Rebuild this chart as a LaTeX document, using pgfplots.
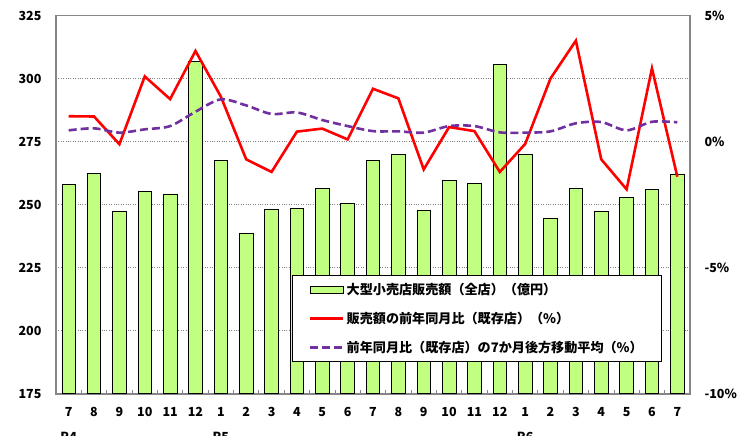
\documentclass[border=0pt]{standalone}
\usepackage{fontspec}
\setmainfont{Noto Sans CJK JP}
\usepackage{pgfplots}
\usepackage{pgfplotstable}
\pgfplotsset{compat=1.18}
\definecolor{barg}{RGB}{192,255,128}
\definecolor{purp}{RGB}{112,48,160}
\definecolor{framec}{RGB}{134,134,134}
\pgfplotstableread{
x sales yoy ma
0 258.2 1.01 0.45
1 262.3 1.00 0.53
2 247.4 -0.10 0.36
3 255.4 2.59 0.49
4 254.3 1.69 0.62
5 306.7 3.60 1.19
6 267.6 1.79 1.68
7 238.5 -0.70 1.44
8 248.2 -1.20 1.10
9 248.6 0.40 1.16
10 256.4 0.52 0.86
11 250.6 0.09 0.62
12 267.6 2.10 0.42
13 270.1 1.72 0.41
14 247.8 -1.10 0.36
15 259.8 0.58 0.62
16 258.5 0.42 0.62
17 305.7 -1.20 0.37
18 270.1 -0.09 0.36
19 244.7 2.51 0.41
20 256.4 4.01 0.73
21 247.4 -0.70 0.78
22 252.9 -1.89 0.45
23 256.1 2.91 0.79
24 262.2 -1.39 0.77
}\data
\begin{document}
\begin{tikzpicture}[font=\bfseries\fontsize{12.5}{15}\selectfont]
\begin{axis}[
  at={(0pt,0pt)}, anchor=south west,
  scale only axis, width=634pt, height=378pt,
  xmin=-0.5, xmax=24.5, ymin=175, ymax=325,
  ytick={175,200,...,325},
  xtick={0,...,24},
  xticklabels={{7\\[10pt]R4},8,9,10,11,12,{1\\[10pt]R5},2,3,4,5,6,7,8,9,10,11,12,{1\\[10pt]R6},2,3,4,5,6,7},
  xticklabel style={align=center, anchor=north, yshift=-10pt},
  yticklabel style={xshift=-11pt},
  minor xtick={-0.5,0.5,...,24.5},
  major tick length=0pt, minor tick length=4pt,
  minor tick style={framec, line width=0.8pt},
  xtick pos=bottom, ytick pos=left,
  ymajorgrids, major grid style={gray, dotted, line width=0.9pt},
  axis line style={framec, line width=1.6pt},
  /pgf/number format/assume math mode=true,
  tick label style={font=\bfseries\fontsize{12.5}{15}\selectfont},
]
\addplot[ybar, bar width=13.6pt, fill=barg, draw=black, line width=0.7pt] table[x=x,y=sales]{\data};
\end{axis}
\begin{axis}[
  at={(0pt,0pt)}, anchor=south west,
  scale only axis, width=634pt, height=378pt,
  xmin=-0.5, xmax=24.5, ymin=-10, ymax=5,
  axis x line=none, axis y line*=right,
  ytick={-10,-5,0,5}, yticklabels={-10\%,-5\%,0\%,5\%},
  yticklabel style={xshift=11pt},
  major tick length=0pt,
  axis line style={framec, line width=1.6pt},
  tick label style={font=\bfseries\fontsize{12.5}{15}\selectfont},
  legend style={at={(0.3718,0.314)}, anchor=north west, draw=black, line width=0.8pt, fill=white,
    inner xsep=17pt, inner ysep=6pt, row sep=12pt,
    font=\bfseries\fontsize{13.1}{15}\selectfont,
    /tikz/every even column/.append style={column sep=0pt}},
  legend cell align=left,
]
\addlegendimage{legend image code/.code={\draw[fill=barg,draw=black,line width=0.7pt] (0pt,-3.6pt) rectangle (33pt,3.6pt);}}
\addlegendentry{大型小売店販売額（全店）（億円）}
\addplot[red, line width=2.6pt, legend image code/.code={\draw[red,line width=2.6pt] (0pt,0pt)--(33pt,0pt);}] table[x=x,y=yoy]{\data};
\addlegendentry{販売額の前年同月比（既存店）（\%）}
\addplot[purp, line width=2.6pt, dash pattern=on 8pt off 4pt, smooth, legend image code/.code={\draw[purp,line width=2.6pt,dash pattern=on 8pt off 4pt] (0pt,0pt)--(33pt,0pt);}] table[x=x,y=ma]{\data};
\addlegendentry{前年同月比（既存店）の7か月後方移動平均（\%）}
\end{axis}
\pgfresetboundingbox
\path[use as bounding box] (-56pt,-42.3pt) rectangle (693pt,393.7pt);
\end{tikzpicture}
\end{document}
